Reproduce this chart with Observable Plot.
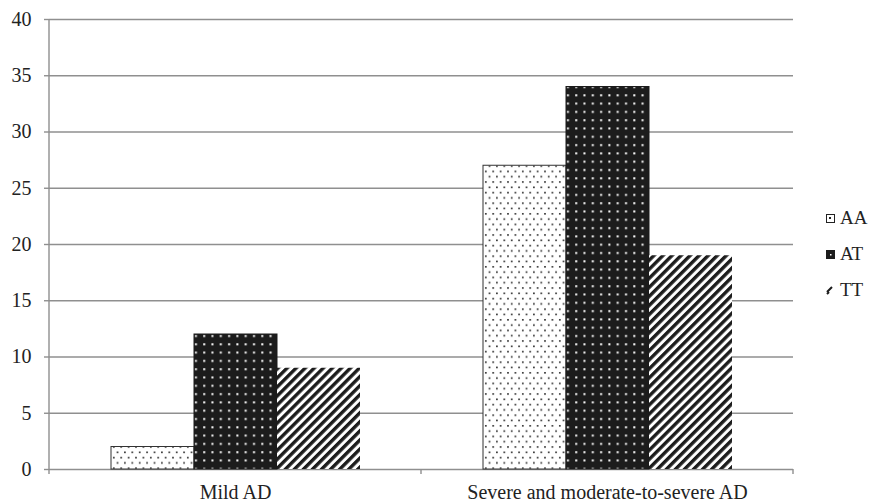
<!DOCTYPE html>
<html>
<head>
<meta charset="utf-8">
<script src="https://cdn.jsdelivr.net/npm/d3@7"></script>
<script src="https://cdn.jsdelivr.net/npm/@observablehq/plot@0.6"></script>
<style>
  body { margin: 0; background: #fff; }
  #wrap { position: relative; width: 869px; height: 503px; font-family: "Liberation Serif", "Times New Roman", serif; }
  #legend { position: absolute; left: 826px; top: 0; }
  .li { position: absolute; left: 0; height: 20px; display: flex; align-items: center; font-size: 19px; color: #222; white-space: nowrap; }
  .li svg { margin-right: 5px; }
</style>
</head>
<body>
<div id="wrap"><div id="legend"></div></div>
<script>
const categories = ["Mild AD", "Severe and moderate-to-severe AD"];
const genotypes = ["AA", "AT", "TT"];
const mildValues = [2, 12, 9];
const severeValues = [27, 34, 19];
const yTicks = [0, 5, 10, 15, 20, 25, 30, 35, 40];

const data = [];
genotypes.forEach((g, i) => {
  data.push({category: categories[0], genotype: g, value: mildValues[i]});
  data.push({category: categories[1], genotype: g, value: severeValues[i]});
});

const fills = {AA: "url(#patAA)", AT: "url(#patAT)", TT: "url(#patTT)"};
const strokes = {AA: "#333", AT: "#1a1a1a", TT: "none"};

const gridColor = "#8f8f8f";
const serif = "'Liberation Serif', 'Times New Roman', serif";

const plot = Plot.plot({
  width: 869,
  height: 503,
  marginLeft: 48,
  marginRight: 76,
  marginTop: 19,
  marginBottom: 34,
  style: {fontFamily: serif, fontSize: "20px", color: "#222", background: "#fff"},
  fx: {domain: categories, padding: 0, label: null, axis: null},
  x: {domain: genotypes, paddingInner: 0, paddingOuter: 0.74, axis: null},
  y: {domain: [0, 40], label: null, axis: null},
  marks: [
    Plot.ruleY(yTicks, {stroke: gridColor, strokeWidth: 1.4}),
    Plot.barY(data, {
      fx: "category",
      x: "genotype",
      y: "value",
      fill: d => fills[d.genotype],
      stroke: d => strokes[d.genotype],
      strokeWidth: 1
    }),
    Plot.axisY({ticks: yTicks, tickSize: 5, tickPadding: 13, stroke: gridColor, strokeWidth: 1.4, fill: "#222", fontSize: 20, fontFamily: serif, label: null}),
    Plot.axisFx({anchor: "bottom", tickSize: 0, tickPadding: 15, fontSize: 20, fontFamily: serif, fill: "#222", label: null})
  ]
});

const svg = d3.select(plot);

// Patterns
const defs = svg.insert("defs", ":first-child");
const pAA = defs.append("pattern").attr("id", "patAA").attr("patternUnits", "userSpaceOnUse").attr("width", 7.4).attr("height", 10.6);
pAA.append("rect").attr("width", 7.4).attr("height", 10.6).attr("fill", "#fff");
pAA.append("rect").attr("x", 1).attr("y", 1).attr("width", 1.6).attr("height", 1.6).attr("fill", "#222");
pAA.append("rect").attr("x", 4.7).attr("y", 6.3).attr("width", 1.6).attr("height", 1.6).attr("fill", "#222");

const pAT = defs.append("pattern").attr("id", "patAT").attr("patternUnits", "userSpaceOnUse").attr("width", 8.3).attr("height", 8.3);
pAT.append("rect").attr("width", 8.3).attr("height", 8.3).attr("fill", "#1c1c1c");
pAT.append("rect").attr("x", 3).attr("y", 3).attr("width", 2).attr("height", 2).attr("fill", "#fff");

const pTT = defs.append("pattern").attr("id", "patTT").attr("patternUnits", "userSpaceOnUse").attr("width", 6.4).attr("height", 6.4).attr("patternTransform", "rotate(45)");
pTT.append("rect").attr("width", 6.4).attr("height", 6.4).attr("fill", "#fff");
pTT.append("rect").attr("width", 3.4).attr("height", 6.4).attr("fill", "#1c1c1c");

// Axis lines using the plot's scales
const fx = plot.scale("fx");
const y = plot.scale("y");
const left = fx.apply(categories[0]);
const y0 = y.apply(0), yTop = y.apply(40);
const deco = svg.append("g").attr("stroke", gridColor).attr("stroke-width", 1.4);
deco.append("line").attr("x1", left).attr("x2", left).attr("y1", yTop).attr("y2", y0 + 5);
categories.forEach(c => {
  const xe = fx.apply(c) + fx.bandwidth;
  deco.append("line").attr("x1", xe).attr("x2", xe).attr("y1", y0).attr("y2", y0 + 5);
});

document.getElementById("wrap").insertBefore(plot, document.getElementById("legend"));

// Legend
const legend = document.getElementById("legend");
const legendY = [218, 254, 290];
genotypes.forEach((g, i) => {
  const item = document.createElement("div");
  item.className = "li";
  item.style.top = (legendY[i] - 10) + "px";
  const sw = d3.create("svg").attr("width", 9).attr("height", 9);
  if (g === "AA") {
    sw.append("rect").attr("x", 0.5).attr("y", 0.5).attr("width", 8).attr("height", 8).attr("fill", "#fff").attr("stroke", "#222");
    sw.append("rect").attr("x", 3).attr("y", 3).attr("width", 2).attr("height", 2).attr("fill", "#222");
  } else if (g === "AT") {
    sw.append("rect").attr("width", 9).attr("height", 9).attr("fill", "#1c1c1c");
    sw.append("rect").attr("x", 4).attr("y", 4).attr("width", 1.5).attr("height", 1.5).attr("fill", "#fff");
  } else {
    sw.append("path").attr("d", "M1,6 L6,1 M1,8 L3,6").attr("stroke", "#1c1c1c").attr("stroke-width", 2);
  }
  item.appendChild(sw.node());
  const t = document.createElement("span");
  t.textContent = g;
  item.appendChild(t);
  legend.appendChild(item);
});
</script>
</body>
</html>
